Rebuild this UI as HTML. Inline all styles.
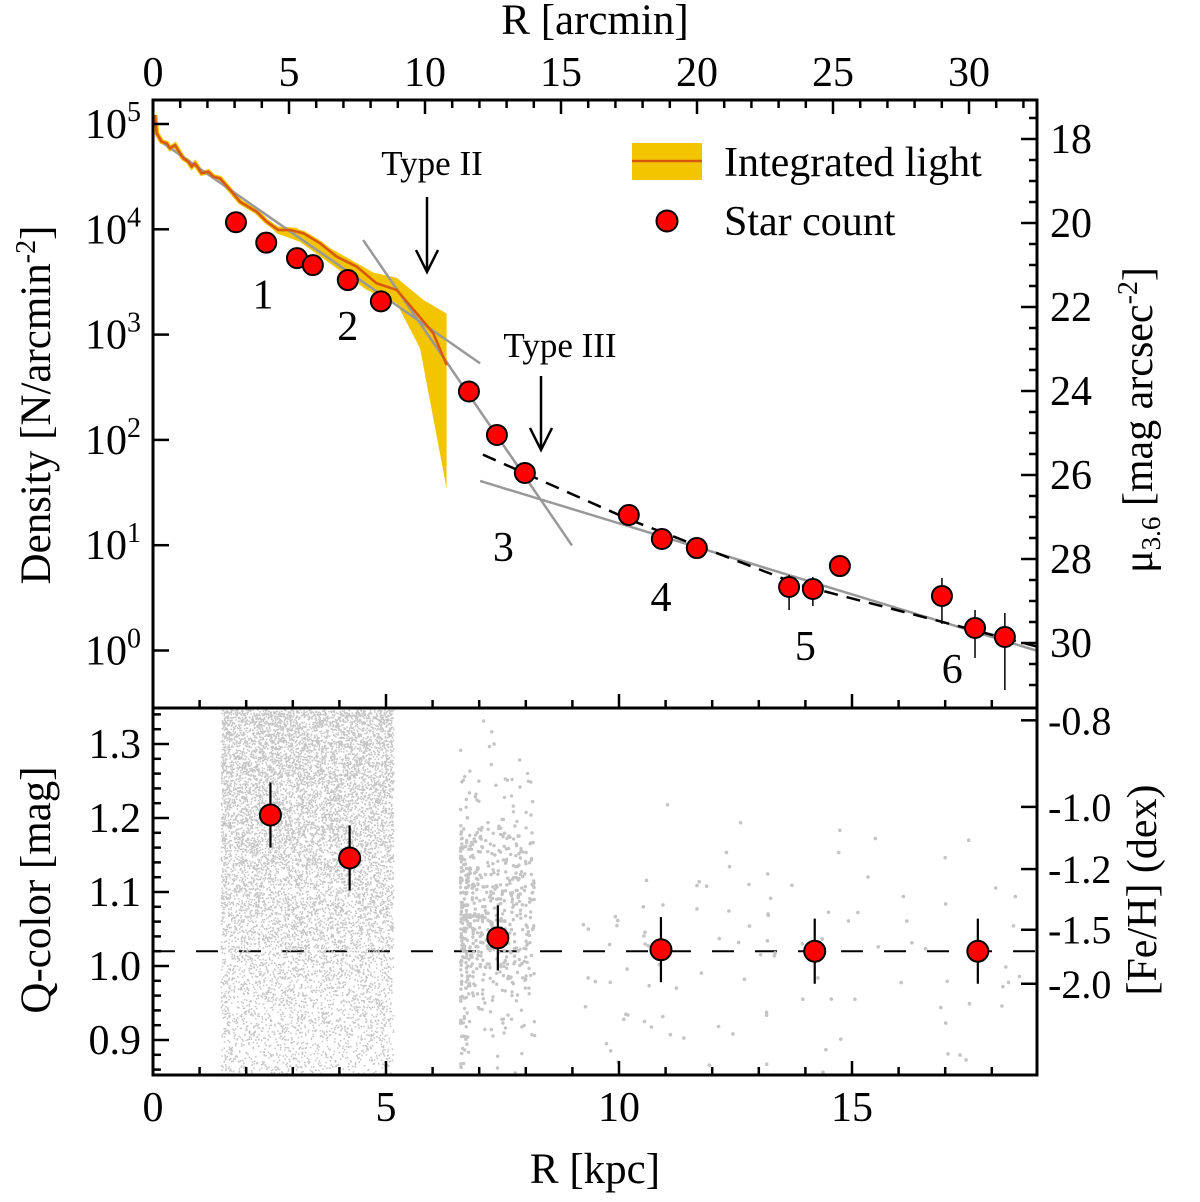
<!DOCTYPE html>
<html><head><meta charset="utf-8"><style>
html,body{margin:0;padding:0;background:#fff;}
svg{display:block;font-family:"Liberation Serif",serif;}
</style></head><body>
<svg id="chart" width="1200" height="1202" viewBox="0 0 1200 1202" xmlns="http://www.w3.org/2000/svg">
<g id="layer-band"></g>
<g id="layer-lines"></g>
<g id="layer-scatter"></g>
<g id="layer-points"></g>
<g id="layer-axes"></g>
<g id="layer-text"></g>
</svg>
<script>
// ---- data ----
const profileKpc = [0.043,0.079,0.186,0.293,0.365,0.472,0.579,0.651,0.758,0.830,0.901,1.044,1.188,1.295,1.438,1.688,1.867,2.225,2.440,2.690,2.94,3.226,3.584,3.942,4.371,4.800,5.230,5.659,6.015,6.302];
const profileLog = [5.086,4.912,4.832,4.817,4.769,4.800,4.722,4.674,4.642,4.595,4.627,4.532,4.547,4.500,4.484,4.357,4.262,4.167,4.072,3.993,3.993,3.962,3.867,3.740,3.645,3.487,3.424,3.202,3.012,2.711];
const bandUpperKpc = [2.29,2.44,2.69,3.08,3.29,3.94,4.73,5.23,5.80,6.30];
const bandUpperLog = [4.150,4.088,4.025,4.015,3.946,3.787,3.588,3.540,3.330,3.200];
const bandLowerKpc = [2.29,2.65,3.15,3.94,4.59,5.23,5.73,6.30];
const bandLowerLog = [4.136,3.962,3.882,3.630,3.424,3.297,2.870,1.540];
const starKpc = [1.78,2.43,3.09,3.43,4.18,4.89,6.78,7.38,7.98,10.21,10.92,11.67,13.65,14.16,14.74,16.93,17.64,18.28];
const starLog = [4.067,3.873,3.726,3.660,3.518,3.316,2.460,2.047,1.686,1.287,1.059,0.973,0.603,0.584,0.802,0.518,0.214,0.128];
const starErrHi = [null,null,null,null,null,null,null,null,null,null,null,null,0.717,0.698,0.898,0.689,0.385,0.356];
const starErrLo = [null,null,null,null,null,null,null,null,null,null,null,null,0.384,0.423,0.708,0.252,-0.071,-0.375];
const fitAKpc = [0.22,7.02], fitALog = [4.817,2.727];
const fitBKpc = [4.51,8.99], fitBLog = [3.898,0.998];
const fitCKpc = [7.02,18.95], fitCLog = [1.61,0.0];
const fitDKpc = [7.08,10.24,13.88,18.95], fitDLog = [1.86,1.24,0.623,0.04];
const qKpc = [2.52,4.22,7.40,10.90,14.20,17.70];
const qVal = [1.204,1.146,1.038,1.022,1.020,1.020];
const qErr = [0.044,0.044,0.044,0.044,0.044,0.044];
const qRef = 1.02;
const kpcTicks = [0,5,10,15];
const arcminTicks = [0,5,10,15,20,25,30];
const densTicks = [0,1,2,3,4,5];
const magTicks = [18,20,22,24,26,28,30];
const qTicks = [0.9,1.0,1.1,1.2,1.3];
const fehLabels = ["-0.8","-1.0","-1.2","-1.5","-2.0"];
const fehQ = [1.332,1.215,1.131,1.049,0.976];
const regionLabels = ["1","2","3","4","5","6"];
const regionKpc = [2.36,4.18,7.52,10.9,14.0,17.15];
const regionLog = [3.25,2.95,0.85,0.376,-0.09,-0.31];

// ---- scales ----
const L=153,R=1037,T=100,MID=708,B=1075;
const X = k => L + k*46.6;
const XA = a => L + a*27.2;
const YD = l => 650.5 - l*105.3;
const YM = m => 139 + 42*(m-18);
const YQ = q => 966 - (q-1)*740;
const NS="http://www.w3.org/2000/svg";
function mk(tag, attrs, parent){const e=document.createElementNS(NS,tag);for(const k in attrs)e.setAttribute(k,attrs[k]);parent.appendChild(e);return e;}
const gBand=document.getElementById('layer-band'),gLines=document.getElementById('layer-lines'),gSc=document.getElementById('layer-scatter'),gPts=document.getElementById('layer-points'),gAx=document.getElementById('layer-axes'),gTx=document.getElementById('layer-text');

// band
let bp=[];
for(let i=0;i<bandUpperKpc.length;i++)bp.push(X(bandUpperKpc[i])+','+YD(bandUpperLog[i]));
for(let i=bandLowerKpc.length-1;i>=0;i--)bp.push(X(bandLowerKpc[i])+','+YD(bandLowerLog[i]));
let band=mk('polygon',{points:bp.join(' '),fill:'#f2c500',stroke:'none'},gBand);


let pp=profileKpc.map((k,i)=>X(k)+','+YD(profileLog[i])).join(' ');
let pu=mk('polyline',{points:pp,fill:'none',stroke:'#f2c500','stroke-width':5},gBand);



// fit lines
function fit(ks,ls,name,opts){const e=mk('polyline',Object.assign({points:ks.map((k,i)=>X(k)+','+YD(ls[i])).join(' '),fill:'none'},opts),gLines);}
fit(fitAKpc,fitALog,'fit-line-inner',{stroke:'#999','stroke-width':2.5});
fit(fitBKpc,fitBLog,'fit-line-middle',{stroke:'#999','stroke-width':2.5});
fit(fitCKpc,fitCLog,'fit-line-outer',{stroke:'#999','stroke-width':2.5});
fit(fitDKpc,fitDLog,'fit-line-dashed',{stroke:'#000','stroke-width':2.5,'stroke-dasharray':'14,9'});
let pl=mk('polyline',{points:pp,fill:'none',stroke:'#d9580a','stroke-width':2.6,'stroke-linejoin':'round'},gLines);



// scatter (background individual stars, seeded)
let seed=12345;function rnd(){seed=(seed*1103515245+12345)%2147483648;return seed/2147483648;}
function gauss(){return Math.sqrt(-2*Math.log(rnd()+1e-9))*Math.cos(2*Math.PI*rnd());}
let dense='';
for(let i=0;i<11000;i++){const k=1.45+rnd()*3.7;let q=rnd()<0.65?0.853+0.494*Math.sqrt(rnd()):0.853+0.494*rnd();dense+=`M${X(k).toFixed(1)} ${YQ(q).toFixed(1)}h1.5v1.5h-1.5z`;}
let dp=mk('path',{d:dense,fill:'#c4c4c4'},gSc);


for(let i=0;i<650;i++){const k=6.6+Math.pow(rnd(),1.6)*1.6;let q=1.06+gauss()*0.085;if(q<0.855||q>1.345)continue;const c=mk('circle',{cx:X(k).toFixed(1),cy:YQ(q).toFixed(1),r:1.7,fill:'#c4c4c4'},gSc);
}
for(let i=0;i<110;i++){const k=9.0+rnd()*9.6;let q=1.0+gauss()*0.09;if(q<0.855||q>1.345)continue;const c=mk('circle',{cx:X(k).toFixed(1),cy:YQ(q).toFixed(1),r:1.8,fill:'#c4c4c4'},gSc);
}

// reference dashed line
let rl=mk('line',{x1:L,x2:R,y1:YQ(qRef),y2:YQ(qRef),stroke:'#000','stroke-width':2,'stroke-dasharray':'22,21'},gLines);



// points
starKpc.forEach((k,i)=>{
  if(starErrHi[i]!==null){const e=mk('line',{x1:X(k),x2:X(k),y1:YD(starErrHi[i]),y2:YD(starErrLo[i]),stroke:'#000','stroke-width':1.5},gPts);
}
  const c=mk('circle',{cx:X(k),cy:YD(starLog[i]),r:10,fill:'#ff0000',stroke:'#000','stroke-width':2},gPts);
  
  
});
qKpc.forEach((k,i)=>{
  const e=mk('line',{x1:X(k),x2:X(k),y1:YQ(qVal[i]+qErr[i]),y2:YQ(qVal[i]-qErr[i]),stroke:'#000','stroke-width':2.2},gPts);
  
  
  const c=mk('circle',{cx:X(k),cy:YQ(qVal[i]),r:10.5,fill:'#ff0000',stroke:'#000','stroke-width':2},gPts);
  
  
});

// axes
[[L,T,R-L,MID-T,'top-panel-frame'],[L,MID,R-L,B-MID,'bottom-panel-frame']].forEach(f=>{const r=mk('rect',{x:f[0],y:f[1],width:f[2],height:f[3],fill:'none',stroke:'#000','stroke-width':3},gAx);
});
function tick(x1,y1,x2,y2){const t=mk('line',{x1,y1,x2,y2,stroke:'#000','stroke-width':2.5},gAx);
}
function txt(s,x,y,anchor,size,name,parent){const t=mk('text',{x,y,'text-anchor':anchor,'font-size':size},parent||gAx);t.textContent=s;
return t;}
for(let a=0;a<=32;a++){const x=XA(a);if(x>R)break;tick(x,T,x,T+(a%5==0?14:8));}
arcminTicks.forEach(a=>txt(String(a),XA(a),86,'middle',42,'arcmin-tick-label'));
for(let k=0;k<=19;k++){const x=X(k);if(x>R-1)break;const len=k%5==0?14:8;tick(x,B,x,B-len);tick(x,MID,x,MID-len);}
kpcTicks.forEach(k=>txt(String(k),X(k),1121,'middle',42,'kpc-tick-label'));
densTicks.forEach(d=>{tick(L,YD(d),L+16,YD(d));const t=txt('10',141,YD(d)+14,'end',42,'density-tick-label');const s=mk('tspan',{dy:-17,'font-size':28},t);s.textContent=String(d);});
for(let m=17.5;m<=31.5;m+=0.5){const y=YM(m);if(y<T+3||y>MID-3)continue;tick(R,y,R-(m%2==0?16:8),y);}
magTicks.forEach(m=>txt(String(m),1050,YM(m)+14,'start',42,'mag-tick-label'));
for(let q=0.86;q<=1.345;q+=0.02){const y=YQ(q);const major=Math.abs(q*10-Math.round(q*10))<0.01;tick(L,y,L+(major?16:8),y);}
qTicks.forEach(q=>txt(q.toFixed(1),141,YQ(q)+14,'end',42,'q-tick-label'));
fehQ.forEach((q,i)=>{tick(R,YQ(q),R-16,YQ(q));txt(fehLabels[i],1048,YQ(q)+14,'start',40,'feh-tick-label');});

// titles
txt('R [arcmin]',595,34,'middle',43,'top-x-axis-title',gTx);
txt('R [kpc]',595,1183,'middle',43,'bottom-x-axis-title',gTx);
let yt=txt('Density [N/arcmin',0,0,'middle',43,'density-axis-title',gTx);yt.setAttribute('transform','translate(50,405) rotate(-90)');
let s1=mk('tspan',{dy:-15,'font-size':28},yt);s1.textContent='-2';let s2=mk('tspan',{dy:15},yt);s2.textContent=']';
let qt=txt('Q-color [mag]',0,0,'middle',43,'q-axis-title',gTx);qt.setAttribute('transform','translate(50,890) rotate(-90)');
let mt=txt('μ',0,0,'middle',42,'mag-axis-title',gTx);mt.setAttribute('transform','translate(1152,420) rotate(-90)');
let m1=mk('tspan',{dy:8,'font-size':27},mt);m1.textContent='3.6';let m2=mk('tspan',{dy:-8},mt);m2.textContent=' [mag arcsec';let m3=mk('tspan',{dy:-15,'font-size':28},mt);m3.textContent='-2';let m4=mk('tspan',{dy:15},mt);m4.textContent=']';
let ft=txt('[Fe/H] (dex)',0,0,'middle',42,'feh-axis-title',gTx);ft.setAttribute('transform','translate(1156,890) rotate(-90)');

regionLabels.forEach((s,i)=>txt(s,X(regionKpc[i]),YD(regionLog[i]),'middle',42,'region-label',gTx));
txt('Type II',432,175,'middle',35,'type-ii-label',gTx);
txt('Type III',560,357,'middle',35,'type-iii-label',gTx);
function arrow(x,y1,y2,name){const g=mk('g',{},gTx);
mk('line',{x1:x,y1:y1,x2:x,y2:y2,stroke:'#000','stroke-width':2.5},g);
mk('polyline',{points:`${x-11},${y2-22} ${x},${y2} ${x+11},${y2-22}`,fill:'none',stroke:'#000','stroke-width':2.5},g);}
arrow(427,197,272,'type-ii-arrow');
arrow(541,376,450,'type-iii-arrow');

let lg=mk('g',{},gTx);
let lb=mk('rect',{x:632,y:143,width:70,height:37,fill:'#f2c500'},lg);
let ll=mk('line',{x1:632,x2:702,y1:161,y2:161,stroke:'#d9580a','stroke-width':2.6},lg);
txt('Integrated light',724,176,'start',42,'legend-entry-integrated-light',lg);
let lc=mk('circle',{cx:667,cy:221,r:10.5,fill:'#ff0000',stroke:'#000','stroke-width':2},lg);
txt('Star count',724,235,'start',42,'legend-entry-star-count',lg);
</script>
</body></html>
